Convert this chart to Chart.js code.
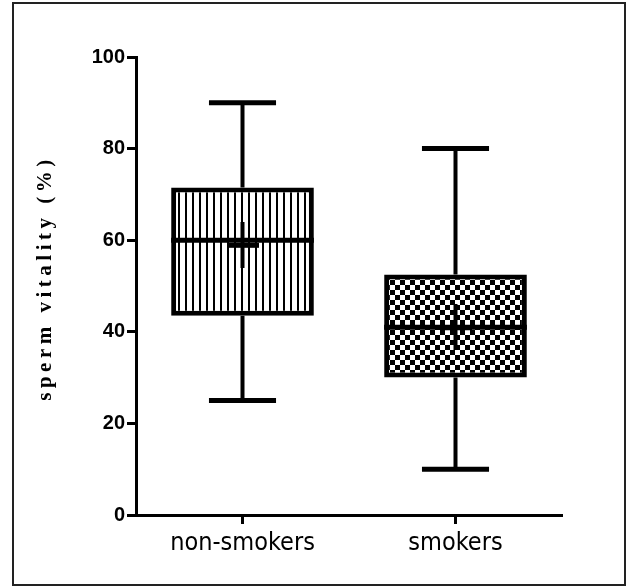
<!DOCTYPE html>
<html>
<head>
<meta charset="utf-8">
<script src="https://cdn.jsdelivr.net/npm/chart.js@4.4.0/dist/chart.umd.min.js"></script>
<style>
  html, body { margin: 0; padding: 0; background: #fff; }
</style>
</head>
<body>
<canvas id="boxchart" width="629" height="588"></canvas>
<script>
// box plot summaries
var groups = ['non-smokers', 'smokers'];
var mins = [25, 10];
var q1s = [43.5, 30];
var medians = [60, 41];
var q3s = [71.5, 52.5];
var maxs = [90, 80];
var means = [59, 41];
var yTicks = [0, 20, 40, 60, 80, 100];
var yTitle = 'sperm vitality (%)';

// fill patterns: vertical hatching and a checkerboard
function makePattern(kind) {
  var c = document.createElement('canvas');
  var g = c.getContext('2d');
  if (kind === 'stripes') {
    c.width = 7; c.height = 7;
    g.fillStyle = '#fff'; g.fillRect(0, 0, 7, 7);
    g.fillStyle = '#000'; g.fillRect(3, 0, 2, 7);
  } else {
    c.width = 10; c.height = 10;
    g.fillStyle = '#fff'; g.fillRect(0, 0, 10, 10);
    g.fillStyle = '#000'; g.fillRect(0, 0, 5, 5); g.fillRect(5, 5, 5, 5);
  }
  return g.createPattern(c, 'repeat');
}

// the "+" used for the mean
var plus = document.createElement('canvas');
plus.width = 32; plus.height = 46;
var pg = plus.getContext('2d');
pg.fillStyle = '#000';
pg.fillRect(0, 21, 32, 5);
pg.fillRect(14, 0, 4, 46);

// whiskers, caps and medians, drawn right after the boxes
var whiskers = {
  id: 'whiskers',
  afterDatasetDraw: function(chart, args) {
    if (args.index !== 0) return;
    var ctx = chart.ctx, y = chart.scales.y;
    var bars = args.meta.data;
    ctx.save();
    ctx.strokeStyle = '#000';
    groups.forEach(function(g, i) {
      var cx = bars[i].x, w = bars[i].width;
      var capHalf = w * 0.235;
      ctx.lineWidth = 4;
      ctx.beginPath();
      ctx.moveTo(cx, y.getPixelForValue(q3s[i]));
      ctx.lineTo(cx, y.getPixelForValue(maxs[i]));
      ctx.moveTo(cx, y.getPixelForValue(q1s[i]));
      ctx.lineTo(cx, y.getPixelForValue(mins[i]));
      ctx.stroke();
      ctx.lineWidth = 5;
      ctx.beginPath();
      ctx.moveTo(cx - capHalf, y.getPixelForValue(maxs[i]));
      ctx.lineTo(cx + capHalf, y.getPixelForValue(maxs[i]));
      ctx.moveTo(cx - capHalf, y.getPixelForValue(mins[i]));
      ctx.lineTo(cx + capHalf, y.getPixelForValue(mins[i]));
      ctx.moveTo(cx - w / 2, y.getPixelForValue(medians[i]));
      ctx.lineTo(cx + w / 2, y.getPixelForValue(medians[i]));
      ctx.stroke();
    });
    ctx.restore();
  }
};

// white page, outer frame and the spaced-out axis title
var frame = {
  id: 'frame',
  beforeDraw: function(chart) {
    var ctx = chart.ctx;
    ctx.save();
    ctx.fillStyle = '#fff';
    ctx.fillRect(0, 0, chart.width, chart.height);
    ctx.strokeStyle = '#222';
    ctx.lineWidth = 2;
    ctx.strokeRect(13, 3, 612, 582);
    ctx.restore();
  },
  afterDraw: function(chart) {
    var ctx = chart.ctx, a = chart.chartArea;
    ctx.save();
    ctx.translate(46, (a.top + a.bottom) / 2 - 6);
    ctx.rotate(-Math.PI / 2);
    ctx.font = 'bold 21px "Liberation Serif", serif';
    ctx.letterSpacing = '4.5px';
    ctx.fillStyle = '#000';
    ctx.textAlign = 'center';
    ctx.textBaseline = 'middle';
    ctx.fillText(yTitle, 2, 0);
    ctx.restore();
  }
};

var ctx = document.getElementById('boxchart');

var chart = new Chart(ctx, {
  type: 'bar',
  data: {
    labels: groups,
    datasets: [{
      label: 'box',
      data: q1s.map(function(v, i) { return [v, q3s[i]]; }),
      backgroundColor: [makePattern('stripes'), makePattern('checks')],
      borderColor: '#000',
      borderWidth: 5,
      borderSkipped: false,
      barPercentage: 0.67,
      categoryPercentage: 1,
      order: 2
    }, {
      type: 'line',
      label: 'mean',
      data: means,
      showLine: false,
      pointStyle: plus,
      order: 1
    }]
  },
  plugins: [frame, whiskers],
  options: {
    responsive: false,
    animation: false,
    layout: { padding: { top: 57, right: 67, bottom: 0, left: 0 } },
    plugins: {
      legend: { display: false },
      tooltip: { enabled: false }
    },
    scales: {
      x: {
        offset: true,
        afterFit: function(s) { s.height = 73; },
        grid: { offset: false, drawOnChartArea: false, tickLength: 9, tickWidth: 3, tickColor: '#000' },
        border: { color: '#000', width: 3 },
        ticks: {
          color: '#000',
          padding: 4,
          font: { family: '"Liberation Sans Narrow", "DejaVu Sans Condensed", "DejaVu Sans"', size: 25 }
        }
      },
      y: {
        min: 0,
        max: 100,
        afterFit: function(s) { s.width = 136; },
        afterBuildTicks: function(s) { s.ticks = yTicks.map(function(v) { return { value: v }; }); },
        grid: { drawOnChartArea: false, tickLength: 9, tickWidth: 3, tickColor: '#000' },
        border: { color: '#000', width: 3 },
        ticks: {
          color: '#000',
          padding: 2,
          font: { family: '"Liberation Sans", Arial', size: 20, weight: 'bold' }
        }
      }
    }
  }
});
</script>
</body>
</html>
